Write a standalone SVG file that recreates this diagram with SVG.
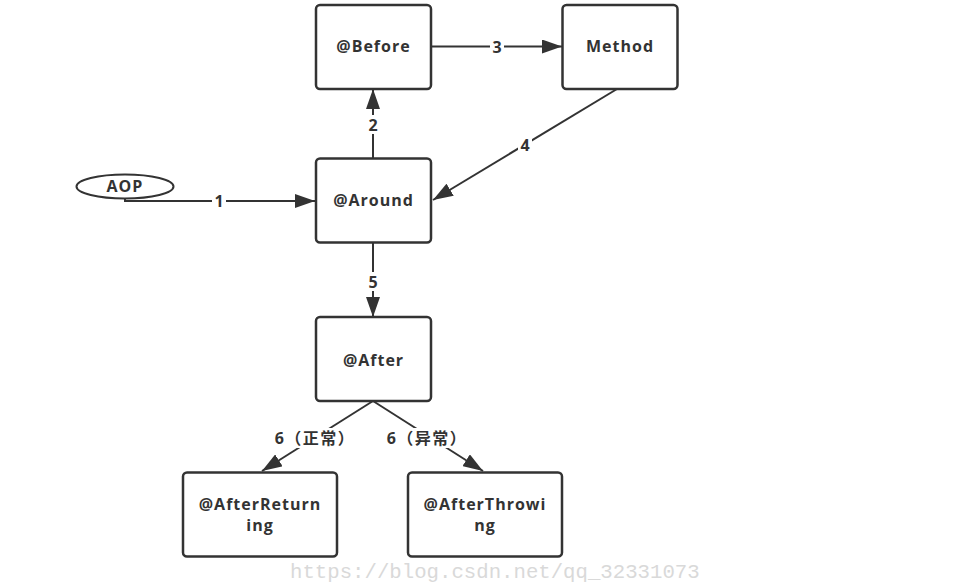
<svg xmlns="http://www.w3.org/2000/svg" width="956" height="588" viewBox="0 0 956 588">
<style>
.box{fill:#fff;stroke:#333;stroke-width:2.5}
.t{font-family:"Open Sans","DejaVu Sans",sans-serif;font-weight:bold;font-size:16px;fill:#333;text-anchor:middle;letter-spacing:1px}
.e{fill:none;stroke:#333;stroke-width:2}
.lb{font-family:"Open Sans","Noto Sans CJK SC",sans-serif;font-weight:bold;font-size:16px;fill:#333;text-anchor:middle}
.bg{fill:#fff}
</style>
<defs>
<marker id="ah" viewBox="0 0 20 14" refX="20" refY="7" markerWidth="20" markerHeight="14" markerUnits="userSpaceOnUse" orient="auto">
<path d="M0,0 L20,7 L0,14 Z" fill="#333"/>
</marker>
</defs>
<rect width="956" height="588" fill="#fff"/>
<g id="connectors">
<path class="e" d="M125,199 L125,201 L315,201" marker-end="url(#ah)"/>
<path class="e" d="M373,158 L373,89" marker-end="url(#ah)"/>
<path class="e" d="M432,46.5 L562,46.5" marker-end="url(#ah)"/>
<path class="e" d="M617,89 L433,200" marker-end="url(#ah)"/>
<path class="e" d="M373,243 L373,317" marker-end="url(#ah)"/>
<path class="e" d="M373,401 L262,471" marker-end="url(#ah)"/>
<path class="e" d="M373,401 L483,471" marker-end="url(#ah)"/>
<rect class="bg" x="212" y="192" width="14" height="18"/>
<text class="lb" x="219" y="207">1</text>
<rect class="bg" x="366" y="115" width="14" height="19"/>
<text class="lb" x="373" y="131">2</text>
<rect class="bg" x="490" y="38" width="14" height="18"/>
<text class="lb" x="497" y="53">3</text>
<rect class="bg" x="518" y="136" width="14" height="18"/>
<text class="lb" x="525" y="151">4</text>
<rect class="bg" x="366" y="272" width="14" height="19"/>
<text class="lb" x="373" y="288">5</text>
<rect class="bg" x="274" y="428" width="82" height="20"/>
<text class="lb" x="315" y="444" letter-spacing="1.5">6（正常）</text>
<rect class="bg" x="386" y="428" width="82" height="20"/>
<text class="lb" x="427" y="444" letter-spacing="1.5">6（异常）</text>
</g>
<g id="aop">
<ellipse cx="125" cy="186.5" rx="48.5" ry="12" fill="#fff" stroke="#333" stroke-width="2"/>
<text class="t" x="125" y="192">AOP</text>
</g>
<g id="before">
<rect class="box" x="316" y="5" width="115" height="84" rx="4"/>
<text class="t" x="373.5" y="52">@Before</text>
</g>
<g id="method">
<rect class="box" x="562.5" y="5" width="115" height="84" rx="4"/>
<text class="t" x="620" y="52">Method</text>
</g>
<g id="around">
<rect class="box" x="316" y="158.5" width="115" height="84" rx="4"/>
<text class="t" x="373.5" y="206">@Around</text>
</g>
<g id="after">
<rect class="box" x="316" y="317" width="115" height="84" rx="4"/>
<text class="t" x="373.5" y="366">@After</text>
</g>
<g id="afterReturning">
<rect class="box" x="183" y="472.5" width="154" height="84" rx="4"/>
<text class="t" x="260" y="510">@AfterReturn</text>
<text class="t" x="260" y="531">ing</text>
</g>
<g id="afterThrowing">
<rect class="box" x="408" y="472.5" width="154" height="84" rx="4"/>
<text class="t" x="485" y="510">@AfterThrowi</text>
<text class="t" x="485" y="531">ng</text>
</g>
<text x="290" y="578" font-family="'Liberation Mono',monospace" font-size="20.7" fill="#d9d9d9">https://blog.csdn.net/qq_32331073</text>
</svg>
